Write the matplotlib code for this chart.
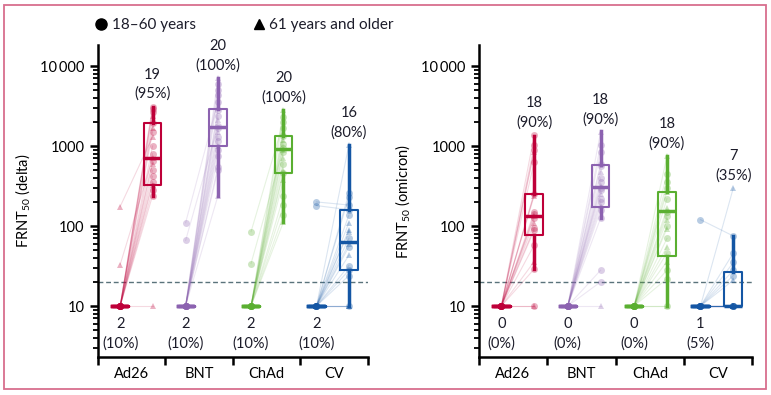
import matplotlib.pyplot as plt
import numpy as np
from matplotlib.lines import Line2D
from matplotlib.patches import Rectangle
from matplotlib.ticker import FuncFormatter, LogLocator, NullFormatter

vaccines = ["Ad26", "BNT", "ChAd", "CV"]
colors = ["#BE0039", "#8C62B0", "#5AAF31", "#1456A4"]

# age group of each participant: "o" = 18-60 years, "^" = 61 years and older
ad26_age = ["o", "o", "o", "^", "o", "^", "o", "^", "o", "o", "^", "o", "^", "o", "o", "o", "^", "o", "o", "^"]
bnt_age = ["^", "o", "o", "o", "o", "^", "o", "o", "^", "o", "o", "^", "o", "o", "^", "o", "o", "o", "o", "^"]
chad_age = ["^", "o", "o", "o", "^", "o", "^", "o", "o", "^", "o", "^", "o", "^", "o", "^", "o", "o", "o", "^"]
cv_age = ["^", "o", "o", "o", "o", "o", "^", "^", "^", "o", "^", "o", "^", "o", "o", "o", "^", "o", "^", "^"]

# delta FRNT50, before and after vaccination
ad26_delta_pre = [10, 10, 10, 10, 10, 10, 10, 175, 10, 10, 33, 10, 10, 10, 10, 10, 10, 10, 10, 10]
ad26_delta_post = [3100, 2900, 2700, 2400, 1950, 1700, 1500, 1300, 1000, 800, 700, 650, 600, 500, 420, 360, 330, 280, 240, 10]
bnt_delta_pre = [10, 10, 10, 10, 110, 10, 10, 10, 10, 66, 10, 10, 10, 10, 10, 10, 10, 10, 10, 10]
bnt_delta_post = [7000, 6000, 5000, 4300, 3600, 3000, 2800, 2400, 2100, 1800, 1700, 1500, 1300, 1150, 1000, 900, 740, 550, 500, 240]
chad_delta_pre = [10, 10, 85, 10, 10, 10, 10, 10, 34, 10, 10, 10, 10, 10, 10, 10, 10, 10, 10, 10]
chad_delta_post = [2820, 2300, 2000, 1700, 1500, 1350, 1200, 1050, 950, 900, 850, 700, 600, 500, 460, 376, 234, 182, 137, 112]
cv_delta_pre = [10, 10, 10, 200, 180, 10, 10, 10, 10, 10, 10, 10, 10, 10, 10, 10, 10, 10, 10, 10]
cv_delta_post = [1030, 257, 232, 183, 160, 137, 110, 90, 85, 70, 60, 55, 43, 32, 28, 24, 10, 10, 10, 10]

# omicron FRNT50, before and after vaccination
ad26_omi_pre = [10] * 20
ad26_omi_post = [1370, 1020, 900, 850, 635, 260, 250, 240, 150, 140, 133, 125, 110, 95, 89, 58, 36, 29, 10, 10]
bnt_omi_pre = [10] * 20
bnt_omi_post = [1500, 1020, 850, 600, 560, 480, 400, 350, 320, 300, 280, 250, 220, 200, 180, 160, 125, 28, 20, 10]
chad_omi_pre = [10] * 20
chad_omi_post = [740, 450, 350, 300, 270, 220, 166, 150, 135, 119, 100, 93, 70, 55, 46, 36, 28, 22, 10, 10]
cv_omi_pre = [10, 120, 10, 10, 10, 10, 10, 10, 10, 10, 10, 10, 10, 10, 10, 10, 10, 10, 10, 10]
cv_omi_post = [300, 75, 46, 35, 28, 24, 21, 10, 10, 10, 10, 10, 10, 10, 10, 10, 10, 10, 10, 10]

# post-vaccination box statistics as drawn
delta_whislo = [240, 240, 112, 10]
delta_q1 = [330, 1000, 460, 28]
delta_med = [700, 1730, 915, 63]
delta_q3 = [1950, 2880, 1350, 158]
delta_whishi = [3100, 7000, 2820, 1030]
omi_whislo = [29, 127, 10, 10]
omi_q1 = [77, 175, 42, 10]
omi_med = [133, 310, 155, 10]
omi_q3 = [250, 580, 270, 27]
omi_whishi = [1350, 1550, 750, 75]

# responders (>20) before and after
delta_pre_n = [2, 2, 2, 2]
delta_pre_pct = [10, 10, 10, 10]
delta_post_n = [19, 20, 20, 16]
delta_post_pct = [95, 100, 100, 80]
omi_pre_n = [0, 0, 0, 1]
omi_pre_pct = [0, 0, 0, 5]
omi_post_n = [18, 18, 18, 7]
omi_post_pct = [90, 90, 90, 35]

threshold = 20
ages = [ad26_age, bnt_age, chad_age, cv_age]

text_color = "#1c1c2a"
plt.rcParams["font.family"] = ["Lato", "DejaVu Sans"]
plt.rcParams["font.size"] = 10.5
plt.rcParams["text.color"] = text_color
plt.rcParams["mathtext.fontset"] = "custom"
plt.rcParams["mathtext.rm"] = "Lato"
plt.rcParams["mathtext.it"] = "Lato:italic"

pre_x = [0.33, 1.30, 2.27, 3.24]
post_x = [0.81, 1.78, 2.75, 3.72]


def fmt_tick(v, pos):
    s = str(int(round(v)))
    if v >= 10000:
        s = s[:-3] + "\u2009" + s[-3:]
    return s


def draw_panel(ax, pres, posts, stats, pre_n, pre_pct, post_n, post_pct, ylabel):
    for i in range(4):
        c = colors[i]
        pre, post, age = pres[i], posts[i], ages[i]
        for a, b, m in zip(pre, post, age):
            ax.plot([pre_x[i], post_x[i]], [a, b], color=c, alpha=0.15, lw=0.8, zorder=1)
            ax.plot(pre_x[i], a, marker=m, color=c, alpha=0.3, ms=5, mew=0, zorder=2)
            ax.plot(post_x[i], b, marker=m, color=c, alpha=0.3, ms=5, mew=0, zorder=2)

        # pre-vaccination box (collapses on the detection limit)
        ax.boxplot(pre, positions=[pre_x[i]], widths=0.24, whis=0, showfliers=False,
                   showcaps=False, manage_ticks=False,
                   boxprops=dict(color=c, lw=2.5), whiskerprops=dict(color=c, lw=2.5),
                   medianprops=dict(color=c, lw=2.5), zorder=4)
        st = dict(whislo=stats[0][i], q1=stats[1][i], med=stats[2][i],
                  q3=stats[3][i], whishi=stats[4][i], fliers=[])
        ax.bxp([st], positions=[post_x[i]], widths=0.26, showfliers=False,
               showcaps=False, manage_ticks=False,
               boxprops=dict(color=c, lw=1.5), whiskerprops=dict(color=c, lw=2.5),
               medianprops=dict(color=c, lw=2.5), zorder=4)

        ax.annotate(f"{post_n[i]}\n({post_pct[i]}%)", (post_x[i], max(post)),
                    xytext=(0, 4), textcoords="offset points", ha="center",
                    va="bottom", linespacing=1.45)
        ax.annotate(f"{pre_n[i]}\n({pre_pct[i]}%)", (pre_x[i], 10),
                    xytext=(0, -8), textcoords="offset points", ha="center",
                    va="top", linespacing=1.45)

    ax.axhline(threshold, color="#5a737b", lw=1, ls=(0, (3.5, 2)), zorder=0)

    ax.set_yscale("log")
    ax.set_ylim(2.3, 18300)
    ax.set_xlim(0, 4)
    ax.yaxis.set_major_locator(LogLocator(base=10, numticks=10))
    ax.yaxis.set_minor_locator(LogLocator(base=10, subs=np.arange(2, 10), numticks=20))
    ax.yaxis.set_minor_formatter(NullFormatter())
    ax.yaxis.set_major_formatter(FuncFormatter(fmt_tick))
    ax.tick_params(axis="y", which="major", length=6, width=1.8, color="black")
    ax.tick_params(axis="y", which="minor", length=3.5, width=1.3, color="black")

    ax.set_xticks(range(5))
    ax.set_xticklabels([])
    ax.set_xticks([i + 0.5 for i in range(4)], minor=True)
    ax.set_xticklabels(vaccines, minor=True)
    ax.tick_params(axis="x", which="major", length=6, width=1.8, color="black")
    ax.tick_params(axis="x", which="minor", length=0, pad=7)

    for s in ["top", "right"]:
        ax.spines[s].set_visible(False)
    for s in ["left", "bottom"]:
        ax.spines[s].set_linewidth(1.8)
    ax.set_ylabel(ylabel)
    ax.yaxis.set_label_coords(-0.245, 0.5)


fig = plt.figure(figsize=(7.71, 3.95), dpi=100)
ax1 = fig.add_axes([0.127, 0.096, 0.350, 0.79])
ax2 = fig.add_axes([0.621, 0.096, 0.355, 0.79])

draw_panel(ax1,
           [ad26_delta_pre, bnt_delta_pre, chad_delta_pre, cv_delta_pre],
           [ad26_delta_post, bnt_delta_post, chad_delta_post, cv_delta_post],
           [delta_whislo, delta_q1, delta_med, delta_q3, delta_whishi],
           delta_pre_n, delta_pre_pct, delta_post_n, delta_post_pct,
           "FRNT$_{50}$ (delta)")
draw_panel(ax2,
           [ad26_omi_pre, bnt_omi_pre, chad_omi_pre, cv_omi_pre],
           [ad26_omi_post, bnt_omi_post, chad_omi_post, cv_omi_post],
           [omi_whislo, omi_q1, omi_med, omi_q3, omi_whishi],
           omi_pre_n, omi_pre_pct, omi_post_n, omi_post_pct,
           "FRNT$_{50}$ (omicron)")

handles = [Line2D([], [], marker="o", color="black", ls="none", ms=8),
           Line2D([], [], marker="^", color="black", ls="none", ms=7)]
fig.legend(handles, ["18\u201360 years", "61 years and older"], loc="center",
           bbox_to_anchor=(0.316, 0.937), ncol=2, frameon=False,
           handletextpad=0.2, columnspacing=3.6, handlelength=1.0, fontsize=11)

fig.patches.append(Rectangle((0.0052, 0.0152), 0.988, 0.972, transform=fig.transFigure,
                             fill=False, edgecolor="#d86e8e", lw=1.3))

plt.savefig("out.png", dpi=100)
